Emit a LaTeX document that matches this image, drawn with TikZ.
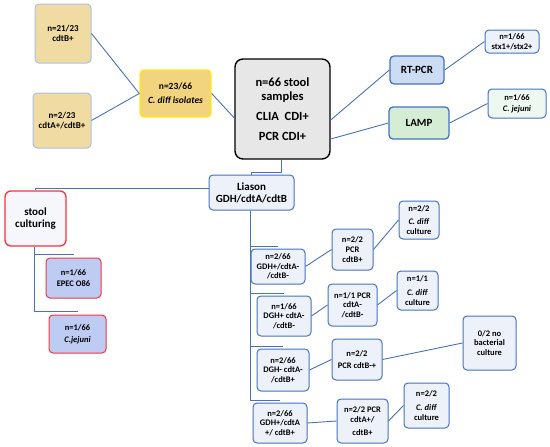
\documentclass[tikz,border=0pt]{standalone}
\usepackage{fontspec}
\setmainfont{Carlito}
\usetikzlibrary{positioning}
\definecolor{lineblue}{HTML}{4472C4}
\definecolor{paleblue}{HTML}{EDF2FA}
\definecolor{tanfill}{HTML}{F0DCA2}
\definecolor{goldfill}{HTML}{F2D47E}
\definecolor{goldline}{HTML}{FFE81A}
\definecolor{greyfill}{HTML}{E7E7E7}
\definecolor{rtfill}{HTML}{CCDCF2}
\definecolor{lampfill}{HTML}{D6EDD5}
\definecolor{mintfill}{HTML}{EEF8F1}
\definecolor{redline}{HTML}{F5333F}
\definecolor{lavender}{HTML}{BECBF2}
\tikzstyle{box}=[rectangle,rounded corners=4pt,draw=lineblue,line width=1pt,fill=paleblue,align=center,inner sep=1pt,font=\bfseries\fontsize{8.5}{9.6}\selectfont]
\tikzstyle{tanbox}=[box,draw=lineblue!45,fill=tanfill,font=\bfseries\fontsize{9}{10}\selectfont]
\tikzstyle{redbox}=[box,draw=redline,fill=lavender,font=\bfseries\fontsize{8.5}{11.5}\selectfont]
\tikzstyle{bigbox}=[box,font=\bfseries\fontsize{11}{12}\selectfont]
\tikzstyle{edge}=[draw,lineblue,line width=0.9pt]

\begin{document}
\begin{tikzpicture}[x=1pt,y=-1pt]
    \useasboundingbox (0,0) rectangle (550,447);
    % top: the stool samples and the tests on them
    \node[box,rounded corners=8pt,draw=black,line width=1.4pt,fill=greyfill,minimum width=95pt,minimum height=100pt,font=\bfseries\fontsize{12.5}{14}\selectfont] (main) at (282.5,109) {n=66 stool\\samples\\[6pt]CLIA\ \ CDI+\\[6pt]PCR CDI+};
    \node[box,draw=goldline,line width=1.4pt,fill=goldfill,minimum width=71pt,minimum height=47pt,font=\bfseries\fontsize{9.5}{10}\selectfont] (iso) at (175.5,93.5) {n=23/66\\[4pt]\textit{C. diff isolates}};
    \node[tanbox,minimum width=56pt,minimum height=59pt] (cdtb) at (63,33.5) {n=21/23\\cdtB+};
    \node[tanbox,minimum width=58pt,minimum height=55pt] (cdtab) at (62,120.5) {n=2/23\\cdtA+/cdtB+};
    \node[bigbox,fill=rtfill,line width=1.3pt,minimum width=54pt,minimum height=28pt] (rtpcr) at (417,70) {RT-PCR};
    \node[bigbox,fill=lampfill,line width=1.3pt,minimum width=60pt,minimum height=32pt] (lamp) at (419,123) {LAMP};
    \node[box,minimum width=54pt,minimum height=23pt] (stx) at (512,41.5) {n=1/66\\stx1+/stx2+};
    \node[box,fill=mintfill,minimum width=58pt,minimum height=29pt,font=\bfseries\fontsize{8.5}{11}\selectfont] (jej) at (517,103.5) {n=1/66\\\textit{C. jejuni}};

    \foreach \source/ \dest in {cdtb/iso, cdtab/iso, rtpcr/stx, lamp/jej}
        \draw[edge] (\source.east) -- (\dest.west);
    \draw[edge] (iso.east) -- ([yshift=-9pt]main.west);
    \draw[edge] ([yshift=-11pt]main.east) -- (rtpcr.west);
    \draw[edge] ([yshift=-30pt]main.east) -- (lamp.west);

    % Liason and the stool culturing
    \node[bigbox,minimum width=85pt,minimum height=35pt] (liason) at (251.5,192.5) {Liason\\GDH/cdtA/cdtB};
    \node[bigbox,draw=redline,line width=1.3pt,fill=paleblue!80!lineblue!20,rounded corners=6pt,minimum width=61pt,minimum height=55pt] (stool) at (35.5,218.5) {stool\\culturing};
    \node[redbox,minimum width=55pt,minimum height=40pt] (epec) at (73.5,278) {n=1/66\\EPEC O86};
    \node[redbox,minimum width=57pt,minimum height=38pt] (cjej) at (77.5,334) {n=1/66\\\textit{C.jejuni}};

    \draw[edge] ([xshift=-1.5pt]main.south) |- ([yshift=2pt]liason.north) -- (liason.north);
    \draw[edge] ([yshift=4pt]liason.west) -| (stool.north);
    \foreach \dest in {epec, cjej}
        \draw[edge] ([xshift=-1.5pt]stool.south) |- ([yshift=3pt]\dest.north);

    % the four Liason results, then PCR, then culture
    \foreach \pos/\name/\w/\h/\label in {{(278,266.5)/g1/54/35/{n=2/66\\GDH+/cdtA-\\/cdtB-}},
            {(352.5,249.5)/p1/41/41/{n=2/2\\PCR\\cdtB+}},
            {(419,220)/d1/40/38/{n=2/2\\[4pt]\textit{C. diff}\\culture}},
            {(284,316)/g2/54/40/{n=1/66\\DGH+ cdtA-\\/cdtB-}},
            {(352.5,305)/p2/49/42/{n=1/1 PCR\\cdtA-\\/cdtB-}},
            {(417.5,290.5)/d2/41/39/{n=1/1\\[4pt]\textit{C. diff}\\culture}},
            {(283,370)/g3/52/42/{n=2/66\\DGH- cdtA-\\/cdtB+}},
            {(357,359.5)/p3/50/41/{n=2/2\\[3pt]PCR cdtB-+}},
            {(489.5,343)/d3/53/54/{0/2 no\\bacterial\\culture}},
            {(280,423)/g4/54/40/{n=2/66\\GDH+/cdtA\\+/ cdtB+}},
            {(362.5,421)/p4/51/44/{n=2/2 PCR\\cdtA+/\\[3pt]cdtB+}},
            {(426.5,405.5)/d4/45/45/{n=2/2\\[4pt]\textit{C. diff}\\culture}}}
            \node[box,minimum width=\w pt,minimum height=\h pt] (\name) at \pos {\label};

    \foreach \dest in {g1, g2, g3, g4}
        \draw[edge] ([xshift=-1.5pt]liason.south) |- ([yshift=2.5pt]\dest.north);
    \foreach \source/ \dest in {g1/p1, p1/d1, g2/p2, p2/d2, g3/p3, p3/d3, g4/p4, p4/d4}
        \draw[edge] (\source.east) -- (\dest.west);
\end{tikzpicture}
\end{document}
